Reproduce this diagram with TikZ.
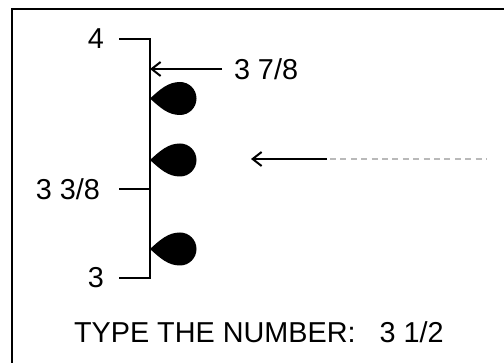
\documentclass[tikz,border=0pt]{standalone}
\usepackage{fontspec}
\setmainfont{Liberation Sans}
\usetikzlibrary{arrows.meta}
\definecolor{dashgrey}{RGB}{185,185,185}

\begin{document}
\begin{tikzpicture}[x=0.5pt,y=-0.5pt,line width=1pt,
  lab/.style={inner sep=0pt,font=\fontsize{14.4}{17}\selectfont},
  pointer/.style={-{Straight Barb[length=4.5pt,width=7pt]}}]
\useasboundingbox (0,0) rectangle (504,363);
\clip (0,0) rectangle (504,363);
\draw (12,9) rectangle (530,390);

\coordinate (top) at (150,39);
\coordinate (mid) at (150,189);
\coordinate (bot) at (150,278);
\coordinate (t4) at (119,39);
\coordinate (t38) at (119,189);
\coordinate (t3) at (119,278);
\draw (t4) -- (top) -- (bot) -- (t3);
\draw (t38) -- (mid);
\node[lab,anchor=east] (l4) at (105,39) {4};
\node[lab,anchor=east] (l38) at (101,189) {3 3/8};
\node[lab,anchor=east] (l3) at (105,278) {3};

\coordinate (a78) at (150,69);
\coordinate (s78) at (222,69);
\draw [pointer] (s78) -- (a78);
\node[lab,anchor=west] (l78) at (233,69) {3 7/8};

\fill (150,98.5) .. controls (160,89.5) and (168,82) .. (180,82) arc[start angle=-90,end angle=90,radius=16.5] .. controls (168,115) and (160,107.5) .. (150,98.5) -- cycle;
\fill (150,160) .. controls (160,151) and (168,143.5) .. (180,143.5) arc[start angle=-90,end angle=90,radius=16.5] .. controls (168,176.5) and (160,169) .. (150,160) -- cycle;
\fill (150,249) .. controls (160,240) and (168,232.5) .. (180,232.5) arc[start angle=-90,end angle=90,radius=16.5] .. controls (168,265.5) and (160,258) .. (150,249) -- cycle;

\coordinate (guess) at (251,159);
\coordinate (gstart) at (327,159);
\coordinate (dstart) at (330,159);
\coordinate (dend) at (487,159);
\draw [pointer] (gstart) -- (guess);
\draw [dashgrey,dash pattern=on 3pt off 2.2pt] (dstart) -- (dend);

\node[lab,anchor=base west] (ask) at (73,343) {TYPE THE NUMBER:\ \ \ 3 1/2};
\end{tikzpicture}
\end{document}
